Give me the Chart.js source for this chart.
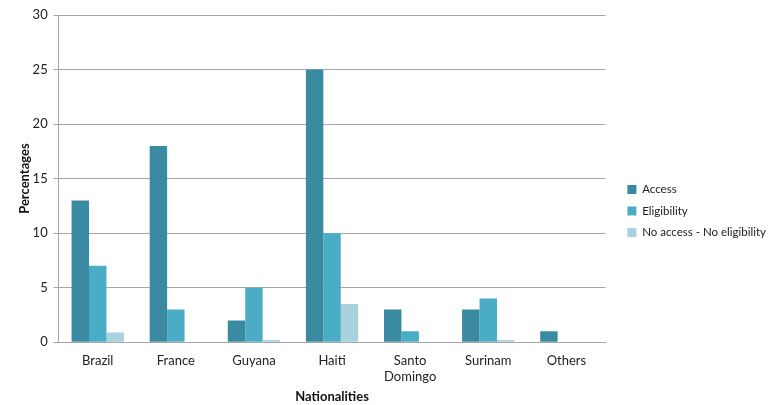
<!DOCTYPE html>
<html>
<head>
<meta charset="utf-8">
<script src="https://cdn.jsdelivr.net/npm/chart.js@4"></script>
<style>
  html, body { margin: 0; padding: 0; background: #fff; }
  #wrap { width: 770px; height: 405px; position: relative; }
</style>
</head>
<body>
<div id="wrap"><canvas id="c" width="770" height="405"></canvas></div>
<script>
const nationalities = ["Brazil", "France", "Guyana", "Haiti", ["Santo", "Domingo"], "Surinam", "Others"];
const access = [13, 18, 2, 25, 3, 3, 1];
const eligibility = [7, 3, 5, 10, 1, 4, 0];
const noAccessNoEligibility = [0.9, 0, 0.2, 3.5, 0, 0.2, 0];
const yTicks = [0, 5, 10, 15, 20, 25, 30];

const FONT = "Lato, 'Open Sans', sans-serif";

// Move the legend a little away from the plot after layout, keeping its size.
const legendOffset = {
  id: "legendOffset",
  afterLayout(chart) {
    const lg = chart.legend;
    if (!lg) return;
    lg.left += 12;
    lg.right += 12;
    lg.top += 1;
    lg.bottom += 1;
  }
};

new Chart(document.getElementById("c"), {
  type: "bar",
  data: {
    labels: nationalities,
    datasets: [
      { label: "Access", data: access, backgroundColor: "#3a8ba1" },
      { label: "Eligibility", data: eligibility, backgroundColor: "#4bacc6" },
      { label: "No access - No eligibility", data: noAccessNoEligibility, backgroundColor: "#a9d1de" }
    ]
  },
  plugins: [legendOffset],
  options: {
    responsive: false,
    animation: false,
    devicePixelRatio: 1,
    layout: { padding: { top: 15, right: 6, left: 17, bottom: 0 } },
    datasets: { bar: { categoryPercentage: 0.67, barPercentage: 1.0 } },
    plugins: {
      legend: {
        position: "right",
        labels: {
          boxWidth: 9, boxHeight: 9, padding: 10,
          color: "#222", font: { family: FONT, size: 11.5 }
        }
      },
      tooltip: { enabled: false }
    },
    scales: {
      x: {
        grid: { display: false, drawTicks: false },
        border: { color: "#a6a6a6", width: 1 },
        ticks: { color: "#222", font: { family: FONT, size: 13, lineHeight: 1.2 }, padding: 11, maxRotation: 0 },
        title: { display: true, text: "Nationalities", color: "#111", font: { family: FONT, size: 13, weight: "bold" }, padding: { top: -6, bottom: 0 } }
      },
      y: {
        min: 0, max: 30,
        afterBuildTicks: (axis) => { axis.ticks = yTicks.map(v => ({ value: v })); },
        grid: { color: "#a6a6a6", tickLength: 5 },
        border: { color: "#a6a6a6", width: 1 },
        ticks: { color: "#222", font: { family: FONT, size: 13 }, padding: 6 },
        title: { display: true, text: "Percentages", color: "#111", font: { family: FONT, size: 13, weight: "bold" }, padding: { top: 0, bottom: -6 } }
      }
    }
  }
});
</script>
</body>
</html>
